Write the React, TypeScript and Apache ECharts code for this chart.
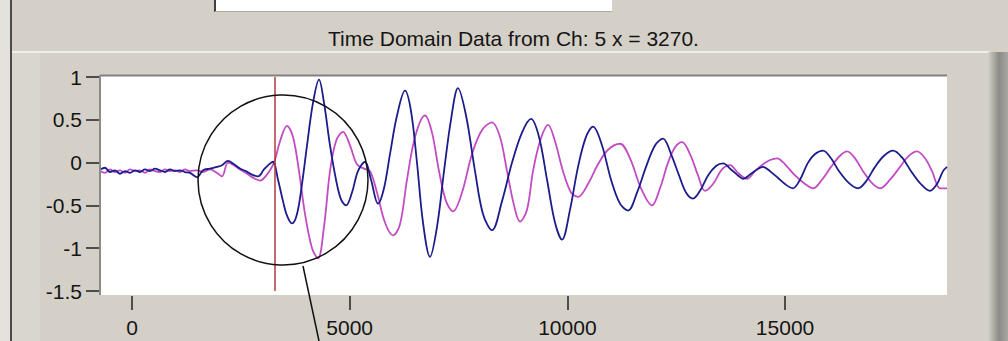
import React, { useEffect, useRef } from "react";
import * as echarts from "echarts";

// ---- data ----
const CHANNEL = 5;
const CURSOR_X = 3270;
const X_MIN = -735;
const X_MAX = 18720;
const xTicks = [0, 5000, 10000, 15000];
const yTicks = [1, 0.5, 0, -0.5, -1, -1.5];

const blueT = [
  -735, -620, -505, -390, -276, -161, -46, 69, 184, 299,
  413, 528, 643, 758, 873, 988, 1103, 1217, 1332, 1493,
  1631, 1792, 1952, 2067, 2205, 2343, 2481, 2619, 2756, 2894,
  3032, 3147, 3239, 3354, 3468, 3560, 3675, 3790, 3905, 4020,
  4158, 4295, 4410, 4548, 4686, 4801, 4916, 5053, 5191, 5352,
  5490, 5651, 5788, 5926, 6087, 6271, 6409, 6546, 6684, 6845,
  7006, 7167, 7327, 7488, 7672, 7879, 8062, 8269, 8499, 8729,
  8958, 9165, 9349, 9533, 9716, 9877, 10061, 10245, 10428, 10589,
  10796, 11003, 11209, 11393, 11600, 11807, 12013, 12197, 12381, 12565,
  12725, 12886, 13047, 13231, 13415, 13576, 13760, 13920, 14035, 14196,
  14356, 14494, 14655, 14839, 15022, 15183, 15344, 15528, 15689, 15872,
  16056, 16240, 16470, 16676, 16860, 17067, 17273, 17480, 17687, 17894,
  18100, 18330, 18491, 18629, 18721,
];
const blueV = [
  -0.08, -0.06, -0.11, -0.09, -0.13, -0.1, -0.12, -0.09, -0.11, -0.08,
  -0.1, -0.07, -0.09, -0.11, -0.08, -0.1, -0.09, -0.11, -0.12, -0.17,
  -0.09, -0.07, -0.05, -0.03, 0.02, -0.02, -0.07, -0.1, -0.14, -0.16,
  -0.08, -0.02, 0.01, -0.2, -0.45, -0.62, -0.71, -0.6, -0.25, 0.2,
  0.7, 0.97, 0.7, 0.2, -0.2, -0.43, -0.5, -0.35, -0.1, 0.01,
  -0.2, -0.48, -0.3, 0.1, 0.55, 0.84, 0.6, 0.0, -0.7, -1.1,
  -0.75, -0.1, 0.5, 0.87, 0.55, -0.1, -0.6, -0.79, -0.45, 0.0,
  0.35, 0.51, 0.3, -0.2, -0.7, -0.9, -0.55, -0.05, 0.3, 0.42,
  0.2, -0.2, -0.48, -0.56, -0.35, -0.05, 0.2, 0.28, 0.1, -0.15,
  -0.35, -0.42, -0.33, -0.15, -0.04, -0.01, -0.08, -0.15, -0.19, -0.14,
  -0.08, -0.05, -0.1, -0.18, -0.26, -0.3, -0.2, 0.0, 0.1, 0.14,
  0.05, -0.1, -0.24, -0.3, -0.22, -0.05, 0.08, 0.14, 0.06, -0.1,
  -0.24, -0.33, -0.25, -0.1, -0.05,
];

const magentaT = [
  -735, -620, -505, -390, -276, -161, -46, 69, 184, 299,
  413, 528, 643, 758, 873, 988, 1103, 1217, 1332, 1493,
  1631, 1792, 1952, 2067, 2205, 2343, 2481, 2619, 2756, 2940,
  3101, 3262, 3400, 3560, 3698, 3836, 3974, 4135, 4272, 4410,
  4548, 4686, 4847, 5007, 5168, 5329, 5467, 5628, 5811, 5995,
  6156, 6317, 6501, 6730, 6891, 7052, 7213, 7373, 7580, 7810,
  8040, 8269, 8453, 8614, 8775, 8912, 9073, 9211, 9372, 9556,
  9716, 9900, 10084, 10245, 10474, 10704, 10934, 11209, 11439, 11692,
  11944, 12128, 12312, 12473, 12634, 12817, 13001, 13162, 13346, 13552,
  13736, 13920, 14127, 14311, 14494, 14655, 14816, 14999, 15229, 15459,
  15643, 15849, 16056, 16263, 16424, 16607, 16791, 16998, 17182, 17411,
  17641, 17825, 18031, 18215, 18376, 18560, 18721,
];
const magentaV = [
  -0.1, -0.12, -0.08, -0.11, -0.09, -0.12, -0.08, -0.1, -0.09, -0.12,
  -0.08, -0.1, -0.11, -0.08, -0.1, -0.09, -0.11, -0.08, -0.1, -0.09,
  -0.11, -0.08, -0.12, -0.16, 0.0, -0.03, -0.08, -0.12, -0.17, -0.21,
  -0.14, 0.0, 0.25, 0.43, 0.3, -0.1, -0.6, -1.0, -1.12, -0.75,
  -0.1, 0.25, 0.36, 0.2, -0.02, -0.07, -0.1, -0.35, -0.7, -0.85,
  -0.72, -0.2, 0.3, 0.55, 0.35, -0.1, -0.45, -0.57, -0.35, 0.1,
  0.38, 0.47, 0.3, -0.1, -0.5, -0.69, -0.55, -0.1, 0.25, 0.44,
  0.25, -0.1, -0.35, -0.4, -0.25, -0.02, 0.15, 0.22, 0.05, -0.3,
  -0.5, -0.3, 0.0, 0.18, 0.24, 0.1, -0.15, -0.33, -0.25, -0.08,
  -0.03, -0.12, -0.19, -0.1, -0.02, 0.03, 0.05, -0.02, -0.15, -0.25,
  -0.3, -0.2, -0.05, 0.08, 0.13, 0.05, -0.1, -0.24, -0.3, -0.2,
  -0.05, 0.07, 0.13, 0.05, -0.1, -0.3, -0.3,
];

const FONT = "'Liberation Sans', Arial, sans-serif";
const TEXT_COLOR = "#151515";

function zip(t: number[], v: number[]) {
  const n = Math.min(t.length, v.length);
  const out: number[][] = [];
  for (let i = 0; i < n; i++) out.push([t[i], v[i]]);
  return out;
}

export default function App() {
  const ref = useRef<HTMLDivElement>(null);

  useEffect(() => {
    if (!ref.current) return;
    const chart = echarts.init(ref.current, null, { renderer: "svg" });
    chart.setOption({
      animation: false,
      backgroundColor: "#d4d0c8",
      title: {
        text: `Time Domain Data from Ch: ${CHANNEL} x = ${CURSOR_X}.`,
        left: 328,
        top: 28,
        padding: 0,
        textStyle: { fontFamily: FONT, fontSize: 21, fontWeight: "normal", color: TEXT_COLOR },
      },
      grid: {
        left: 100,
        right: 61,
        top: 77,
        bottom: 50,
        show: true,
        backgroundColor: "#ffffff",
        borderWidth: 0,
      },
      xAxis: {
        type: "value",
        min: X_MIN,
        max: X_MAX,
        offset: 5,
        axisLine: { show: false, onZero: false },
        splitLine: { show: false },
        axisTick: {
          show: true,
          length: 14,
          customValues: xTicks,
          lineStyle: { color: "#222", width: 1.5 },
        },
        axisLabel: {
          customValues: xTicks,
          margin: 21,
          fontFamily: FONT,
          fontSize: 21,
          color: TEXT_COLOR,
          formatter: (v: number) => String(v),
        },
      },
      yAxis: {
        type: "value",
        min: -1.5,
        max: 1,
        interval: 0.5,
        axisLine: { show: false, onZero: false },
        splitLine: { show: false },
        axisTick: { show: true, length: 14, lineStyle: { color: "#222", width: 1.5 } },
        axisLabel: {
          margin: 18,
          fontFamily: FONT,
          fontSize: 21,
          color: TEXT_COLOR,
          formatter: (v: number) => (yTicks.indexOf(v) >= 0 ? String(v) : ""),
        },
      },
      graphic: [
        { type: "rect", shape: { x: 0, y: 0, width: 10, height: 341 }, style: { fill: "#e4e2dc" }, z: -5 },
        { type: "rect", shape: { x: 10, y: 0, width: 2, height: 341 }, style: { fill: "#4a4a4a" }, z: -5 },
        { type: "rect", shape: { x: 12, y: 53, width: 28, height: 288 }, style: { fill: "#d9d6cf" }, z: -5 },
        { type: "rect", shape: { x: 215, y: 0, width: 397, height: 11 }, style: { fill: "#ffffff" }, z: -5 },
        { type: "rect", shape: { x: 214, y: 0, width: 2, height: 12 }, style: { fill: "#404040" }, z: -5 },
        { type: "rect", shape: { x: 215, y: 11, width: 397, height: 1 }, style: { fill: "#b0aca4" }, z: -5 },
        { type: "rect", shape: { x: 12, y: 51, width: 978, height: 2 }, style: { fill: "#f0eee8" }, z: -5 },
        {
          type: "rect",
          shape: { x: 988, y: 52, width: 20, height: 289 },
          style: {
            fill: new echarts.graphic.LinearGradient(0, 0, 1, 0, [
              { offset: 0, color: "#d4d0c8" },
              { offset: 0.55, color: "#8c8a86" },
              { offset: 1, color: "#a8a6a0" },
            ]),
          },
          z: -5,
        },
        // plot panel extensions (white) and borders
        { type: "rect", shape: { x: 100, y: 75, width: 847, height: 3 }, style: { fill: "#ffffff" }, z: -1 },
        { type: "rect", shape: { x: 100, y: 290, width: 847, height: 5 }, style: { fill: "#ffffff" }, z: -1 },
        { type: "line", shape: { x1: 100, y1: 75.5, x2: 947, y2: 75.5 }, style: { stroke: "#808080", lineWidth: 2 }, z: 10 },
        { type: "line", shape: { x1: 100, y1: 75, x2: 100, y2: 295 }, style: { stroke: "#8a8a8a", lineWidth: 2 }, z: 10 },
        // annotation circle and pointer
        {
          type: "circle",
          shape: { cx: 283, cy: 180, r: 85 },
          style: { fill: "none", stroke: "#111", lineWidth: 1.5 },
          z: 20,
        },
        {
          type: "line",
          shape: { x1: 303, y1: 266, x2: 319, y2: 341 },
          style: { stroke: "#111", lineWidth: 1.5 },
          z: 20,
        },
      ],
      series: [
        {
          type: "line",
          data: zip(magentaT, magentaV),
          showSymbol: false,
          smooth: 0.35,
          lineStyle: { color: "#c24cc2", width: 1.8 },
          z: 3,
          markLine: {
            silent: true,
            symbol: "none",
            label: { show: false },
            lineStyle: { color: "#b03a3a", width: 1.5, type: "solid" },
            data: [{ xAxis: CURSOR_X }],
          },
        },
        {
          type: "line",
          data: zip(blueT, blueV),
          showSymbol: false,
          smooth: 0.35,
          lineStyle: { color: "#1c1c8a", width: 1.8 },
          z: 4,
        },
      ],
    });
    return () => chart.dispose();
  }, []);

  return (
    <div
      ref={ref}
      style={{ position: "absolute", left: 0, top: 0, width: 1008, height: 341 }}
    />
  );
}
